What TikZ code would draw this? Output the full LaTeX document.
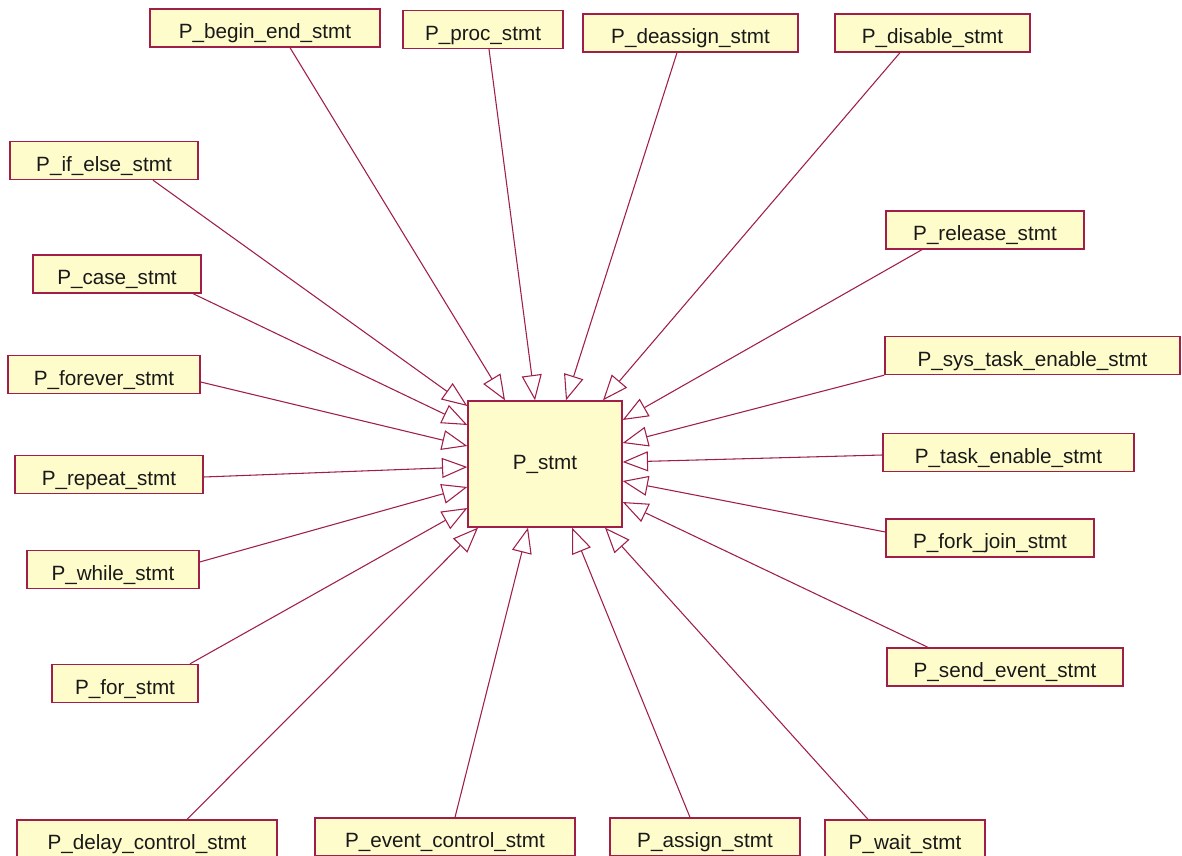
\documentclass[tikz,border=0pt]{standalone}
\usepackage{fontspec}
\setmainfont{Liberation Sans}
\usetikzlibrary{arrows.meta,calc}
\definecolor{crim}{RGB}{160,30,72}
\definecolor{boxfill}{RGB}{255,252,204}
\tikzset{
  cls/.style={draw=crim, fill=boxfill, line width=1pt, minimum height=28.5pt,
    inner sep=0pt, font=\fontsize{15.5}{18}\selectfont, text=black!90,
    text height=16pt, text depth=0pt},
  conn/.style={draw=crim, line width=0.8pt,
    -{Triangle[length=19pt,width=15pt,fill=white,line width=0.8pt]}},
}
\begin{document}
\begin{tikzpicture}[x=0.75pt,y=-0.75pt]
\useasboundingbox (0,0) rectangle (1182,856);
\clip (0,0) rectangle (1182,856);
\fill[white] (0,0) rectangle (1182,856);

\node[cls, minimum width=115.5pt, minimum height=94.5pt, text height=11pt, text depth=3pt] (s) at (545,464) {P\_stmt};

\node[cls, minimum width=172.5pt] (be) at (265,28) {P\_begin\_end\_stmt};
\node[cls, minimum width=120pt] (proc) at (483,29.5) {P\_proc\_stmt};
\node[cls, minimum width=161.25pt] (deas) at (690.5,33) {P\_deassign\_stmt};
\node[cls, minimum width=146.25pt] (dis) at (932.5,33) {P\_disable\_stmt};
\node[cls, minimum width=141pt] (ife) at (104,160.5) {P\_if\_else\_stmt};
\node[cls, minimum width=148.5pt] (rel) at (985,230) {P\_release\_stmt};
\node[cls, minimum width=126pt] (case) at (117,274) {P\_case\_stmt};
\node[cls, minimum width=221.25pt] (sys) at (1032.5,355.5) {P\_sys\_task\_enable\_stmt};
\node[cls, minimum width=144pt] (forev) at (104,374.5) {P\_forever\_stmt};
\node[cls, minimum width=188.25pt] (task) at (1008.5,452.5) {P\_task\_enable\_stmt};
\node[cls, minimum width=141pt] (rep) at (109,474.5) {P\_repeat\_stmt};
\node[cls, minimum width=156pt] (fork) at (990,538) {P\_fork\_join\_stmt};
\node[cls, minimum width=129pt] (whl) at (113,569.5) {P\_while\_stmt};
\node[cls, minimum width=177pt] (send) at (1005,667) {P\_send\_event\_stmt};
\node[cls, minimum width=109.5pt] (for) at (125,683.5) {P\_for\_stmt};
\node[cls, minimum width=195pt] (delay) at (147,839) {P\_delay\_control\_stmt};
\node[cls, minimum width=195pt] (evc) at (445,837) {P\_event\_control\_stmt};
\node[cls, minimum width=142.5pt] (asg) at (705,837) {P\_assign\_stmt};
\node[cls, minimum width=120pt] (wait) at (905,839) {P\_wait\_stmt};

% top
\draw[conn] ($(be.south)+(25,0)$) -- ($(s.north)+(-40,0)$);
\draw[conn] ($(proc.south)+(6,0)$) -- ($(s.north)+(-10,0)$);
\draw[conn] ($(deas.south)+(-13.5,0)$) -- ($(s.north)+(21,0)$);
\draw[conn] ($(dis.south)+(-32.5,0)$) -- ($(s.north)+(58,0)$);
% left
\draw[conn] ($(ife.south)+(49,0)$) -- ($(s.west)+(0,-58)$);
\draw[conn] ($(case.south)+(76,0)$) -- ($(s.west)+(0,-39)$);
\draw[conn] ($(forev.east)+(0,7.5)$) -- ($(s.west)+(0,-18)$);
\draw[conn] ($(rep.east)+(0,2.5)$) -- ($(s.west)+(0,3)$);
\draw[conn] ($(whl.east)+(0,-7.5)$) -- ($(s.west)+(0,23)$);
\draw[conn] ($(for.north)+(65,0)$) -- ($(s.west)+(0,44)$);
% right
\draw[conn] ($(rel.south)+(-63,0)$) -- ($(s.east)+(0,-44)$);
\draw[conn] (sys.south west) -- ($(s.east)+(0,-21)$);
\draw[conn] ($(task.west)+(0,2.5)$) -- ($(s.east)+(0,-2)$);
\draw[conn] ($(fork.west)+(0,-6)$) -- ($(s.east)+(0,17)$);
\draw[conn] ($(send.north)+(-77,0)$) -- ($(s.east)+(0,38)$);
% bottom
\draw[conn] ($(delay.north)+(40,0)$) -- ($(s.south)+(-67,0)$);
\draw[conn] ($(evc.north)+(10,0)$) -- ($(s.south)+(-17,0)$);
\draw[conn] ($(asg.north)+(-15,0)$) -- ($(s.south)+(27,0)$);
\draw[conn] ($(wait.north)+(-37,0)$) -- ($(s.south)+(60,0)$);
\end{tikzpicture}
\end{document}
